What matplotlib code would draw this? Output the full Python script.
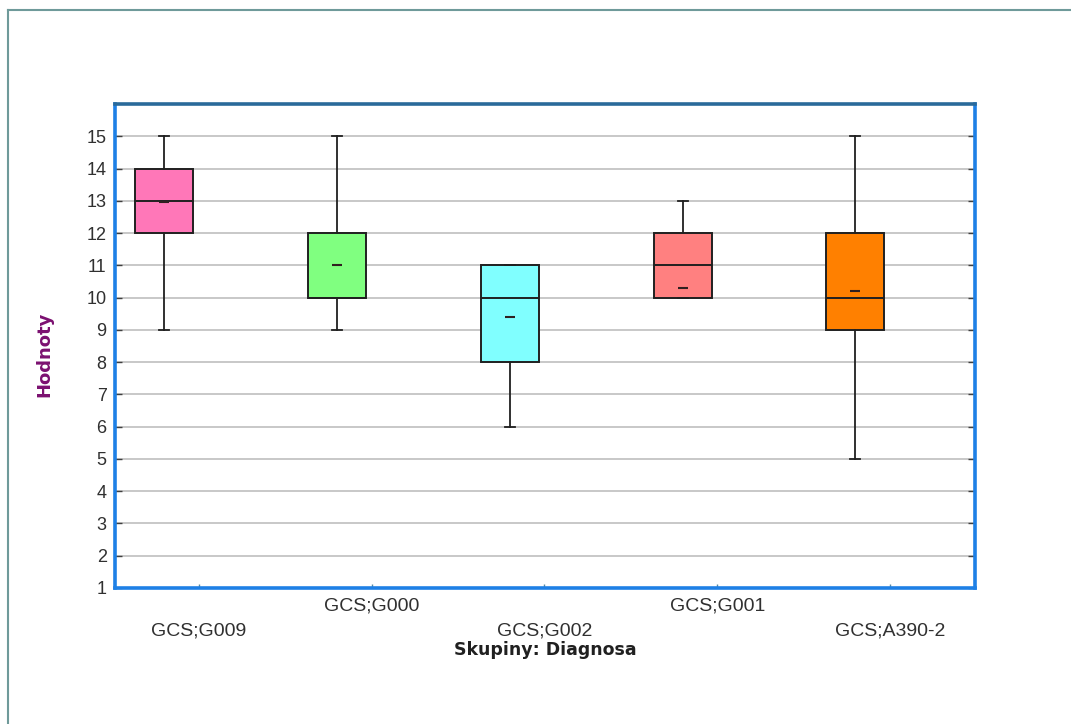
import numpy as np
import matplotlib
matplotlib.use('Agg')
import matplotlib.pyplot as plt
from matplotlib.lines import Line2D

# Data
groups = ['GCS;G009', 'GCS;G000', 'GCS;G002', 'GCS;G001', 'GCS;A390-2']
whisker_low = [9, 9, 6, 10, 5]
q1 = [12, 10, 8, 10, 9]
medians = [13, 10, 10, 11, 10]
q3 = [14, 12, 11, 12, 12]
whisker_high = [15, 15, 11, 13, 15]
means = [12.95, 11.0, 9.4, 10.3, 10.2]
box_colors = ['#FF77B8', '#80FF80', '#80FFFF', '#FF8080', '#FF8000']

stats = []
for g, lo, a, m, b, hi, mu in zip(groups, whisker_low, q1, medians, q3, whisker_high, means):
    stats.append(dict(label=g, whislo=lo, q1=a, med=m, q3=b, whishi=hi, mean=mu))

W, H = 1071, 724
fig = plt.figure(figsize=(W / 100, H / 100), dpi=100)
ax = fig.add_axes([115 / W, 1 - 588 / H, 860 / W, 484 / H])

pos = np.arange(1, len(groups) + 1)
bp = ax.bxp(stats, positions=pos - 0.2, widths=0.336, capwidths=0.058,
            patch_artist=True, showmeans=True, showfliers=False, manage_ticks=False,
            boxprops=dict(edgecolor='#202020', linewidth=1.4),
            medianprops=dict(color='#202020', linewidth=1.4),
            whiskerprops=dict(color='#202020', linewidth=1.3),
            capprops=dict(color='#202020', linewidth=1.3),
            meanprops=dict(marker='_', markersize=7, markeredgewidth=1.5,
                           markeredgecolor='#302020'))
for patch, c in zip(bp['boxes'], box_colors):
    patch.set_facecolor(c)

ax.set_xlim(0.514, 5.492)
ax.set_ylim(1, 16)
ax.set_yticks(range(1, 16))
ax.set_xticks(pos)
ax.set_xticklabels(groups, fontsize=14, family='Liberation Sans', color='#303030')
for lab in ax.get_yticklabels():
    lab.set_family('Liberation Sans')
    lab.set_fontsize(13)
    lab.set_color('#303030')

ax.yaxis.grid(True, color='#C4C4C4', linewidth=1.3)
ax.set_axisbelow(True)
ax.tick_params(axis='y', direction='in', length=5, width=1, color='#404040',
               right=True, pad=6)
ax.tick_params(axis='x', direction='in', length=3, width=1, color='#5A8AA0')
for i, t in enumerate(ax.xaxis.get_major_ticks()):
    t.set_pad(25 if i % 2 == 0 else 7)

for side in ['left', 'right', 'bottom']:
    ax.spines[side].set_color('#1E80E6')
    ax.spines[side].set_linewidth(2.6)
ax.spines['top'].set_color('#2A6A9A')
ax.spines['top'].set_linewidth(2.6)

ax.set_xlabel('Skupiny: Diagnosa', fontsize=12.5, fontweight='bold',
              family='DejaVu Sans', color='#202020')
ax.xaxis.set_label_coords(0.5, (588 - 641) / 484)
ax.set_ylabel('Hodnoty', fontsize=13, fontweight='bold',
              family='DejaVu Sans', color='#7B1070')
ax.yaxis.set_label_coords((53 - 115) / 860, (588 - 354) / 484)

# outer frame (left and top edges only)
fig.add_artist(Line2D([8 / W, 8 / W], [0, 1 - 10 / H], color='#6F9A9A', lw=1.5))
fig.add_artist(Line2D([8 / W, 1], [1 - 10 / H, 1 - 10 / H], color='#6F9A9A', lw=1.5))

fig.savefig('out.png', dpi=100)
